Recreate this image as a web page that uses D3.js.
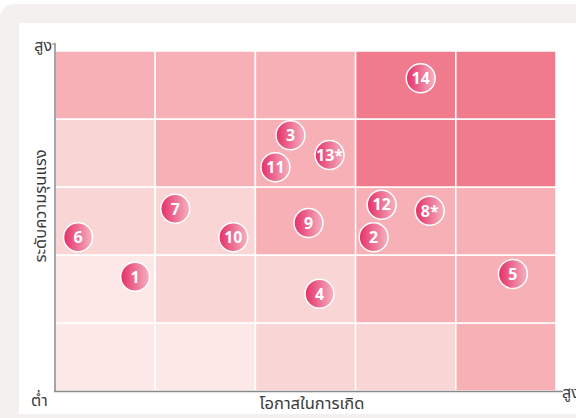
<!DOCTYPE html>
<html>
<head>
<meta charset="utf-8">
<script src="https://cdn.jsdelivr.net/npm/d3@7"></script>
<style>
  body { margin: 0; background: #fff; }
  svg text { font-family: "Noto Sans", "Noto Sans Thai", sans-serif; }
</style>
</head>
<body>
<div id="chart"></div>
<script>
// risk matrix data
var likelihood = [1, 2, 3, 4, 5];
var severity = [1, 2, 3, 4, 5];

// colour level of each cell, rows from severity 1 (bottom) up to 5 (top)
var cellLevels = [
    [0, 0, 1, 1, 2],
    [0, 1, 1, 2, 2],
    [1, 1, 2, 2, 2],
    [1, 2, 2, 3, 3],
    [2, 2, 2, 3, 3]
];
var levelColors = ["#fde8e8", "#f9d5d6", "#f6b0b6", "#ef7b8c"];

// risk points (position inside the 0..5 grid)
var riskIds = ["1", "2", "3", "4", "5", "6", "7", "8*", "9", "10", "11", "12", "13*", "14"];
var riskX = [0.80, 3.18, 2.35, 2.64, 4.57, 0.23, 1.20, 3.74, 2.53, 1.78, 2.20, 3.26, 2.74, 3.65];
var riskY = [1.68, 2.26, 3.76, 1.43, 1.72, 2.26, 2.68, 2.65, 2.47, 2.26, 3.29, 2.74, 3.47, 4.60];

var width = 576;
var height = 418;

var svg = d3.select("#chart")
    .append("svg")
    .attr("width", width)
    .attr("height", height);

// card background
svg.append("rect")
    .attr("x", 0).attr("y", 4)
    .attr("width", 620).attr("height", 430)
    .attr("rx", 14)
    .attr("fill", "#f3f0ef");
svg.append("rect")
    .attr("x", 19).attr("y", 23)
    .attr("width", 620).attr("height", 391)
    .attr("fill", "#fff");

var x = d3.scaleLinear().domain([0, 5]).range([55, 556]);
var y = d3.scaleLinear().domain([0, 5]).range([391, 51]);

// cells
var cells = [];
severity.forEach(function (s, i) {
    likelihood.forEach(function (l, j) {
        cells.push({ s: s, l: l, level: cellLevels[i][j] });
    });
});

svg.append("g")
    .selectAll("rect")
    .data(cells)
    .enter().append("rect")
    .attr("x", d => x(d.l - 1))
    .attr("y", d => y(d.s))
    .attr("width", d => x(d.l) - x(d.l - 1))
    .attr("height", d => y(d.s - 1) - y(d.s))
    .attr("fill", d => levelColors[d.level])
    .attr("stroke", "#fff")
    .attr("stroke-width", 1.5);

// axes
var axisColor = "#8a8a8a";
svg.append("line")
    .attr("x1", 55).attr("x2", 55)
    .attr("y1", 43).attr("y2", 392)
    .attr("stroke", axisColor).attr("stroke-width", 1.5);
svg.append("line")
    .attr("x1", 52).attr("x2", 55)
    .attr("y1", 44).attr("y2", 44)
    .attr("stroke", axisColor).attr("stroke-width", 1);
svg.append("line")
    .attr("x1", 54).attr("x2", 563)
    .attr("y1", 391.5).attr("y2", 391.5)
    .attr("stroke", axisColor).attr("stroke-width", 1.5);

var labelColor = "#3a3a3a";
svg.append("text")
    .attr("x", 52).attr("y", 51)
    .attr("text-anchor", "end")
    .attr("font-size", 16)
    .attr("fill", labelColor)
    .text("สูง");
svg.append("text")
    .attr("x", 31).attr("y", 406)
    .attr("font-size", 16)
    .attr("fill", labelColor)
    .text("ต่ำ");
svg.append("text")
    .attr("x", 562).attr("y", 398)
    .attr("font-size", 16)
    .attr("fill", labelColor)
    .text("สูง");
svg.append("text")
    .attr("x", 312).attr("y", 409)
    .attr("text-anchor", "middle")
    .attr("font-size", 16.5)
    .attr("fill", labelColor)
    .text("โอกาสในการเกิด");
svg.append("text")
    .attr("transform", "translate(46,206) rotate(-90)")
    .attr("text-anchor", "middle")
    .attr("font-size", 16.5)
    .attr("fill", labelColor)
    .text("ระดับความรุนแรง");

// bubble gradient
var grad = svg.append("defs")
    .append("linearGradient")
    .attr("id", "bubbleGrad")
    .attr("x1", "0%").attr("x2", "100%")
    .attr("y1", "0%").attr("y2", "0%");
grad.append("stop").attr("offset", "0%").attr("stop-color", "#e52e66");
grad.append("stop").attr("offset", "100%").attr("stop-color", "#f5b3c2");

var points = riskIds.map(function (id, i) {
    return { id: id, x: riskX[i], y: riskY[i] };
});

var bubbles = svg.append("g")
    .selectAll("g")
    .data(points)
    .enter().append("g")
    .attr("transform", d => "translate(" + x(d.x) + "," + y(d.y) + ")");

bubbles.append("circle")
    .attr("r", 14.5)
    .attr("fill", "url(#bubbleGrad)")
    .attr("stroke", "#fff")
    .attr("stroke-width", 1.5);

bubbles.append("text")
    .attr("text-anchor", "middle")
    .attr("dy", "0.36em")
    .attr("font-size", 16)
    .attr("font-weight", "bold")
    .attr("fill", "#fff")
    .text(d => d.id);
</script>
</body>
</html>
